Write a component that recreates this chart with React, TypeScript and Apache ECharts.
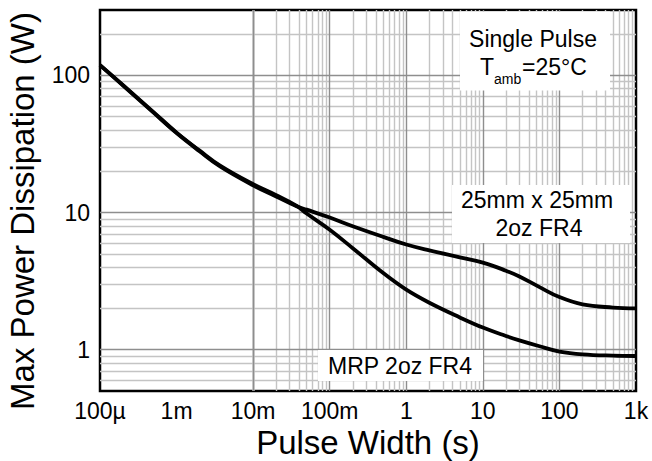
import React, { useEffect, useRef } from "react";
import * as echarts from "echarts";

// ---- Data ----
const pulseWidth = [1e-4, 2e-4, 5e-4, 1e-3, 2e-3, 3.7e-3, 1e-2, 2e-2, 3.7e-2, 5e-2, 0.1, 0.2, 0.5, 1, 2, 5, 10, 20, 30, 55, 100, 200, 500, 1000];
const power25mm = [119, 84.5, 53.5, 38, 28, 21.7, 15.8, 13.1, 11.1, 10.5, 9.2, 7.95, 6.65, 5.85, 5.3, 4.72, 4.32, 3.77, 3.42, 2.86, 2.42, 2.14, 2.03, 2.0];
const powerMRP = [119, 85, 54, 38.3, 28.3, 22, 16.1, 13.4, 11.2, 9.85, 7.5, 5.5, 3.62, 2.74, 2.2, 1.72, 1.45, 1.26, 1.17, 1.06, 0.97, 0.925, 0.905, 0.9];

const xTickLabels = ["100µ", "1m", "10m", "100m", "1", "10", "100", "1k"];
const xFirstExponent = -4;

const xMajorGrid = [1e-3, 1e-2, 1e-1, 1, 10, 100];
const xMinorDecades = [1e-4, 1e-3, 1e-2, 1e-1, 1, 10, 100];
const yMajorGrid = [1, 10, 100];
const yMinorValues = [0.6, 0.7, 0.8, 0.9, 2, 3, 4, 5, 6, 7, 8, 9, 20, 30, 40, 50, 60, 70, 80, 90, 200];
const minorMultipliers = [2, 3, 4, 5, 6, 7, 8, 9];

const FONT = '"Liberation Sans", Arial, Helvetica, sans-serif';
const MAJOR = "#8e8e8e";
const MINOR = "#c4c4c4";

function isDecade(v: number) {
  const l = Math.log10(v);
  return Math.abs(l - Math.round(l)) < 1e-6;
}

export default function App() {
  const ref = useRef<HTMLDivElement>(null);

  useEffect(() => {
    document.body.style.margin = "0";
    if (!ref.current) return;
    const chart = echarts.init(ref.current, null, { renderer: "svg" });

    const xMinor: number[] = [];
    xMinorDecades.forEach((d) => minorMultipliers.forEach((m) => xMinor.push(d * m)));

    const gridLines: any[] = [];
    xMinor.forEach((v) => gridLines.push({ xAxis: v, lineStyle: { color: MINOR, width: 1.4, type: "solid" } }));
    yMinorValues.forEach((v) => gridLines.push({ yAxis: v, lineStyle: { color: MINOR, width: 1.4, type: "solid" } }));
    xMajorGrid.forEach((v) => gridLines.push({ xAxis: v, lineStyle: { color: MAJOR, width: 1.4, type: "solid" } }));
    yMajorGrid.forEach((v) => gridLines.push({ yAxis: v, lineStyle: { color: MAJOR, width: 1.4, type: "solid" } }));

    const textStyleBase = { fontFamily: FONT, fill: "#000" };

    chart.setOption({
      animation: false,
      grid: { left: 100, top: 10, right: 16, bottom: 70, show: true, borderColor: "#000", borderWidth: 2.5, z: 0 },
      xAxis: {
        type: "log",
        logBase: 10,
        min: 1e-4,
        max: 1000,
        splitNumber: 7,
        axisLine: { show: false },
        axisTick: { show: false },
        splitLine: { show: false },
        axisLabel: {
          color: "#000",
          fontSize: 23,
          fontFamily: FONT,
          margin: 8,
          formatter: (v: number) => {
            if (!isDecade(v)) return "";
            const idx = Math.round(Math.log10(v)) - xFirstExponent;
            return xTickLabels[idx] ?? "";
          },
        },
      },
      yAxis: {
        type: "log",
        logBase: 10,
        min: 0.5,
        max: 300,
        splitNumber: 3,
        axisLine: { show: false },
        axisTick: { show: false },
        splitLine: { show: false },
        axisLabel: {
          color: "#000",
          fontSize: 23,
          fontFamily: FONT,
          margin: 10,
          formatter: (v: number) => (isDecade(v) ? String(Math.round(v)) : ""),
        },
      },
      series: [
        {
          type: "line",
          data: [],
          z: 1,
          silent: true,
          markLine: {
            z: 1,
            silent: true,
            symbol: ["none", "none"],
            label: { show: false },
            emphasis: { disabled: true },
            data: gridLines,
          },
        },
        {
          name: "25mm x 25mm 2oz FR4",
          type: "line",
          z: 5,
          showSymbol: false,
          smooth: 0.4,
          lineStyle: { color: "#000", width: 3.8 },
          data: pulseWidth.map((x, i) => [x, power25mm[i]]),
        },
        {
          name: "MRP 2oz FR4",
          type: "line",
          z: 5,
          showSymbol: false,
          smooth: 0.4,
          lineStyle: { color: "#000", width: 3.8 },
          data: pulseWidth.map((x, i) => [x, powerMRP[i]]),
        },
      ],
      graphic: [
        // annotation boxes
        { type: "rect", z: 3, shape: { x: 460, y: 11.5, width: 150, height: 79 }, style: { fill: "#fff" } },
        { type: "rect", z: 3, shape: { x: 452, y: 185, width: 178, height: 58 }, style: { fill: "#fff" } },
        { type: "rect", z: 3, shape: { x: 318, y: 350, width: 165, height: 31 }, style: { fill: "#fff" } },
        // texts
        { type: "text", z: 4, x: 533, y: 38.5, style: { ...textStyleBase, text: "Single Pulse", fontSize: 23, textAlign: "center", textVerticalAlign: "middle" } },
        { type: "text", z: 4, x: 480, y: 67, style: { ...textStyleBase, text: "T", fontSize: 23, textAlign: "left", textVerticalAlign: "middle" } },
        { type: "text", z: 4, x: 494, y: 79, style: { ...textStyleBase, text: "amb", fontSize: 14, textAlign: "left", textVerticalAlign: "middle" } },
        { type: "text", z: 4, x: 522, y: 67, style: { ...textStyleBase, text: "=25°C", fontSize: 23, textAlign: "left", textVerticalAlign: "middle" } },
        { type: "text", z: 4, x: 537, y: 200, style: { ...textStyleBase, text: "25mm x 25mm", fontSize: 23, textAlign: "center", textVerticalAlign: "middle" } },
        { type: "text", z: 4, x: 539, y: 228, style: { ...textStyleBase, text: "2oz FR4", fontSize: 23, textAlign: "center", textVerticalAlign: "middle" } },
        { type: "text", z: 4, x: 400, y: 366, style: { ...textStyleBase, text: "MRP 2oz FR4", fontSize: 23, textAlign: "center", textVerticalAlign: "middle" } },
        // axis titles
        { type: "text", z: 4, x: 368, y: 442, style: { ...textStyleBase, text: "Pulse Width (s)", fontSize: 33, textAlign: "center", textVerticalAlign: "middle" } },
        { type: "text", z: 4, x: 22, y: 211, rotation: Math.PI / 2, style: { ...textStyleBase, text: "Max Power Dissipation (W)", fontSize: 33, textAlign: "center", textVerticalAlign: "middle" } },
      ],
    });

    return () => chart.dispose();
  }, []);

  return <div ref={ref} style={{ width: 652, height: 461 }} />;
}
